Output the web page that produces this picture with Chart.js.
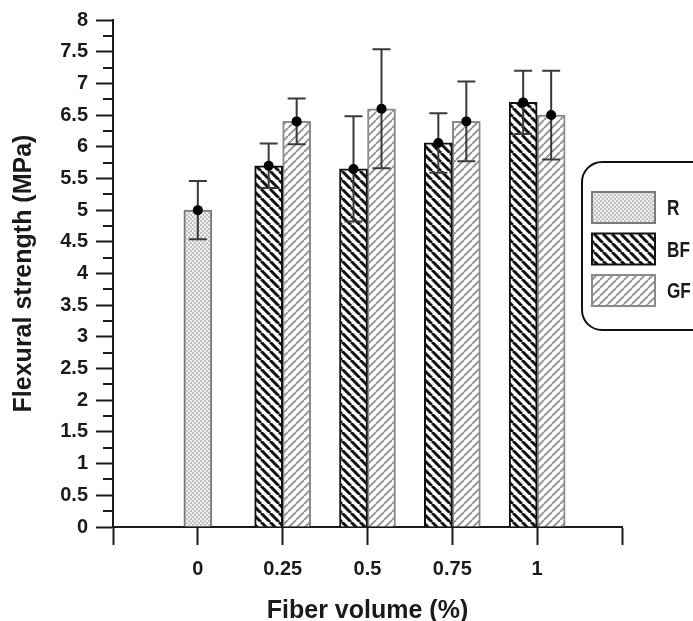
<!DOCTYPE html>
<html>
<head>
<meta charset="utf-8">
<title>Flexural strength</title>
<script src="https://cdn.jsdelivr.net/npm/chart.js@4.4.0/dist/chart.umd.min.js"></script>
<style>
  html, body { margin: 0; padding: 0; background: #fff; }
  canvas { display: block; }
</style>
</head>
<body>
<canvas id="flexChart" width="693" height="621"></canvas>
<script>
// fiber volume groups (x axis)
var categories = ['0', '0.25', '0.5', '0.75', '1'];

// mean flexural strength (MPa) and +/- deviation per group
var rMean  = [5.0, null, null, null, null];
var rErr   = [0.46, null, null, null, null];
var bfMean = [null, 5.7, 5.65, 6.06, 6.7];
var bfErr  = [null, 0.35, 0.83, 0.47, 0.5];
var gfMean = [null, 6.4, 6.6, 6.4, 6.5];
var gfErr  = [null, 0.36, 0.94, 0.63, 0.7];

var seriesNames = ['R', 'BF', 'GF'];

// y axis range / tick step
var yMin = 0, yMax = 8, yStep = 0.5;

var INK = '#1a1a1a';
var FONT = '"Liberation Sans", Arial, sans-serif';

// empty slot on each side so the axis runs past the first/last group
function pad(arr) { return [null].concat(arr, [null]); }

var canvas = document.getElementById('flexChart');
var ctx = canvas.getContext('2d');

function makePattern(size, draw) {
  var c = document.createElement('canvas');
  c.width = size; c.height = size;
  var g = c.getContext('2d');
  draw(g, size);
  return ctx.createPattern(c, 'repeat');
}

function stripes(size, color, width, backslash) {
  return makePattern(size, function (g, s) {
    g.fillStyle = '#fff';
    g.fillRect(0, 0, s, s);
    g.strokeStyle = color;
    g.lineWidth = width;
    g.beginPath();
    for (var k = -1; k <= 1; k++) {
      if (backslash) { g.moveTo(k * s, 0); g.lineTo(k * s + s, s); }
      else { g.moveTo(k * s, s); g.lineTo(k * s + s, 0); }
    }
    g.stroke();
  });
}

var rFill = makePattern(4, function (g, s) {
  g.fillStyle = '#ededed';
  g.fillRect(0, 0, s, s);
  g.fillStyle = '#c4c4c4';
  g.fillRect(0, 0, 2, 2);
  g.fillRect(2, 2, 2, 2);
});
var bfFill = stripes(9, '#111', 3, true);
var gfFill = stripes(8, '#9a9a9a', 2, false);

// minor ticks every 0.25 between the labelled ones
var minorTicks = {
  id: 'minorTicks',
  afterDraw: function (chart) {
    var y = chart.scales.y, c = chart.ctx, x0 = chart.chartArea.left;
    c.save();
    c.strokeStyle = INK;
    c.lineWidth = 2;
    c.beginPath();
    for (var v = yMin + yStep / 2; v < yMax; v += yStep) {
      var py = Math.round(y.getPixelForValue(v));
      c.moveTo(x0 - 10, py);
      c.lineTo(x0, py);
    }
    c.stroke();
    c.restore();
  }
};

var errorBars = {
  id: 'errorBars',
  afterDatasetsDraw: function (chart) {
    var c = chart.ctx, y = chart.scales.y;
    c.save();
    chart.data.datasets.forEach(function (ds, i) {
      var meta = chart.getDatasetMeta(i);
      meta.data.forEach(function (bar, j) {
        var v = ds.data[j], e = ds.errors[j];
        if (v == null) return;
        var x = bar.x;
        var top = y.getPixelForValue(v + e);
        var bot = y.getPixelForValue(v - e);
        c.strokeStyle = '#3a3a3a';
        c.lineWidth = 2;
        c.beginPath();
        c.moveTo(x, top); c.lineTo(x, bot);
        c.moveTo(x - 9, top); c.lineTo(x + 9, top);
        c.moveTo(x - 9, bot); c.lineTo(x + 9, bot);
        c.stroke();
        c.fillStyle = '#000';
        c.beginPath();
        c.arc(x, y.getPixelForValue(v), 5, 0, Math.PI * 2);
        c.fill();
      });
    });
    c.restore();
  }
};

// boxed legend on the right
var boxLegend = {
  id: 'boxLegend',
  afterDraw: function (chart) {
    var c = chart.ctx;
    var bx = 582, by = 162, bw = 140, bh = 168, r = 20;
    c.save();
    c.strokeStyle = '#111';
    c.lineWidth = 2;
    c.beginPath();
    c.roundRect(bx, by, bw, bh, r);
    c.stroke();
    chart.data.datasets.forEach(function (ds, i) {
      var sy = 192 + i * 41.5;
      c.fillStyle = ds.backgroundColor;
      c.fillRect(592, sy, 63, 31);
      c.strokeStyle = ds.borderColor;
      c.lineWidth = 2;
      c.strokeRect(592, sy, 63, 31);
      // condensed label text
      c.save();
      c.translate(667, sy + 17);
      c.scale(0.78, 1);
      c.font = 'bold 22px ' + FONT;
      c.textBaseline = 'middle';
      c.textAlign = 'left';
      c.fillStyle = INK;
      c.fillText(ds.label, 0, 0);
      c.restore();
    });
    c.restore();
  }
};

var config = {
  type: 'bar',
  data: {
    labels: pad(categories).map(function (s) { return s == null ? '' : s; }),
    datasets: [
      { label: seriesNames[0], data: pad(rMean), errors: pad(rErr),
        backgroundColor: rFill, borderColor: '#7a7a7a', borderWidth: 2 },
      { label: seriesNames[1], data: pad(bfMean), errors: pad(bfErr),
        backgroundColor: bfFill, borderColor: '#111', borderWidth: 2 },
      { label: seriesNames[2], data: pad(gfMean), errors: pad(gfErr),
        backgroundColor: gfFill, borderColor: '#8a8a8a', borderWidth: 2 }
    ]
  },
  options: {
    responsive: false,
    animation: false,
    devicePixelRatio: 1,
    skipNull: true,
    barThickness: 28,
    layout: { padding: { top: 16, right: 71, bottom: 0, left: 0 } },
    plugins: {
      legend: { display: false },
      tooltip: { enabled: false }
    },
    scales: {
      x: {
        offset: false,
        grid: { offset: false, drawOnChartArea: false, tickLength: 18, tickWidth: 2, tickColor: INK },
        border: { color: INK, width: 2 },
        ticks: { color: INK, font: { family: FONT, size: 20, weight: 'bold' }, padding: 12,
                 autoSkip: false, maxRotation: 0 },
        title: { display: true, text: 'Fiber volume (%)', color: INK,
                 font: { family: FONT, size: 25, weight: 'bold', lineHeight: 1 },
                 padding: { top: 0, bottom: -3 } },
        afterFit: function (s) { s.height = 94; }
      },
      y: {
        min: yMin,
        max: yMax,
        grid: { drawOnChartArea: false, tickLength: 17, tickWidth: 2, tickColor: INK },
        border: { color: INK, width: 2 },
        ticks: { stepSize: yStep, color: INK, padding: 8,
                 font: { family: FONT, size: 20, weight: 'bold' },
                 callback: function (v) { return String(Number(v)); } },
        title: { display: true, text: 'Flexural strength (MPa)', color: INK,
                 font: { family: FONT, size: 25, weight: 'bold', lineHeight: 1 },
                 padding: { top: 12, bottom: 0 } },
        afterFit: function (s) { s.width = 113; }
      }
    }
  },
  plugins: [minorTicks, errorBars, boxLegend]
};

new Chart(canvas, config);
</script>
</body>
</html>
